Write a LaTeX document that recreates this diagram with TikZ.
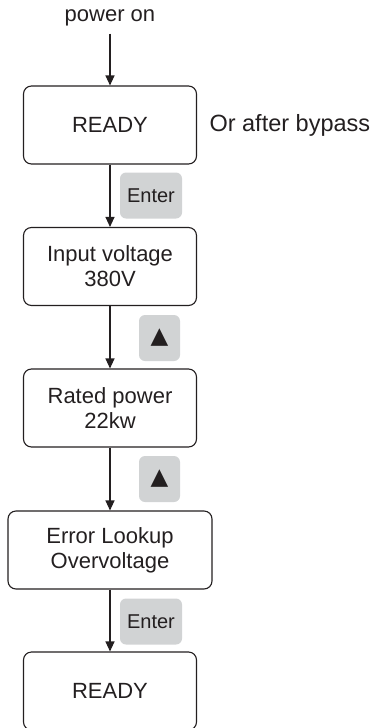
\documentclass[tikz,border=0pt]{standalone}
\usepackage{fontspec}
\setmainfont{Liberation Sans}
\newfontfamily\symfont{DejaVu Sans}
\usetikzlibrary{arrows.meta}
\definecolor{inkgray}{HTML}{231F20}
\definecolor{keygray}{HTML}{D1D3D4}
\tikzset{
  screen/.style={draw=inkgray, line width=1.1pt, rounded corners=8pt,
    minimum width=173pt, minimum height=78pt, align=center, text=inkgray,
    font=\fontsize{22}{25}\selectfont},
  keybox/.style={fill=keygray, rounded corners=6pt, minimum width=62pt,
    minimum height=46pt, text=inkgray, font=\fontsize{20}{24}\selectfont},
  upkey/.style={keybox, minimum width=41pt, font=\symfont\fontsize{23}{24}\selectfont},
  note/.style={text=inkgray, font=\fontsize{22}{25}\selectfont},
  flow/.style={draw=inkgray, line width=1.1pt, -{Triangle[length=10pt,width=9pt]}},
}
\begin{document}
\begin{tikzpicture}[x=1pt,y=-1pt]
\useasboundingbox (0,0) rectangle (375,728);

% screens
\node[note] (poweron) at (110,18) {power on};
\node[screen] (ready) at (110,125) {READY};
\node[note, anchor=west, font=\fontsize{23.5}{25}\selectfont] (bypass) at (206,125) {Or after bypass};
\node[screen] (input) at (110,266.5) {Input voltage\\380V};
\node[screen] (rated) at (110,408) {Rated power\\22kw};
\node[screen, minimum width=204pt] (error) at (110,550) {Error Lookup\\Overvoltage};
\node[screen] (readyend) at (110,691) {READY};

% keys
\node[keybox] (enterA) at (151,195.5) {Enter};
\node[upkey] (upA) at (159.5,338) {▲};
\node[upkey] (upB) at (159.5,479) {▲};
\node[keybox] (enterB) at (151,621.5) {Enter};

\draw[flow, shorten <=4pt] (poweron) -- (ready);
\draw[flow] (ready) -- (input);
\draw[flow] (input) -- (rated);
\draw[flow] (rated) -- (error);
\draw[flow] (error) -- (readyend);
\end{tikzpicture}
\end{document}
